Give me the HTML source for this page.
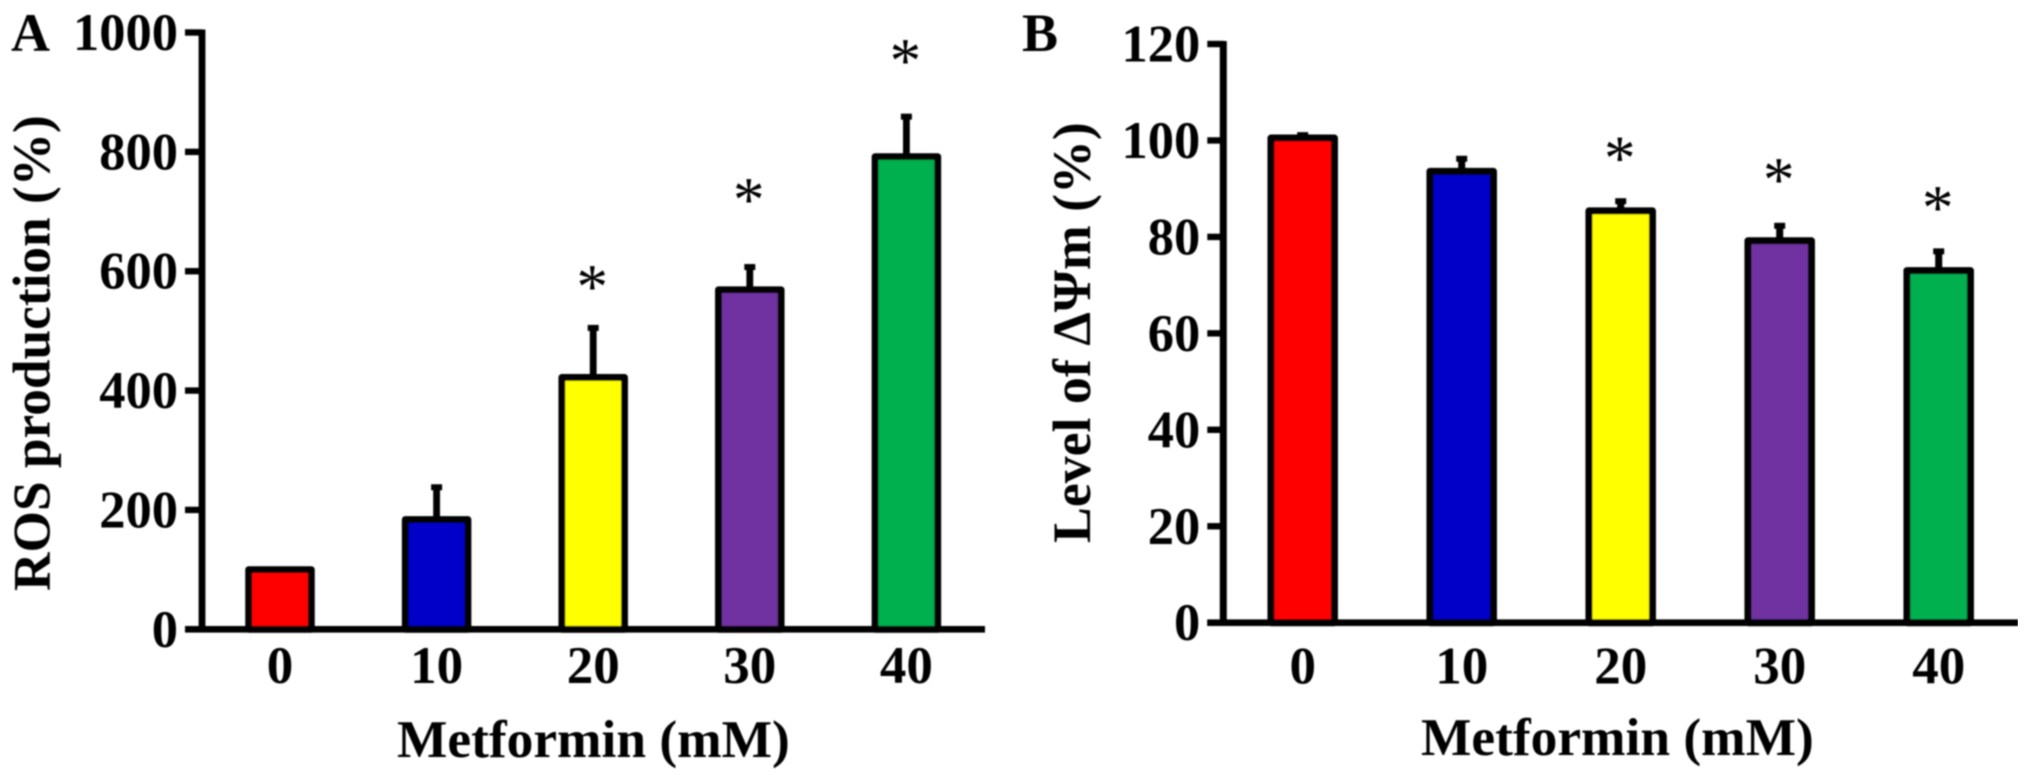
<!DOCTYPE html>
<html lang="en">
<head>
<meta charset="utf-8">
<title>Metformin ROS production and mitochondrial membrane potential</title>
<style>
  html, body { margin: 0; padding: 0; background: #fff; width: 2031px; height: 782px; overflow: hidden; }
  svg { display: block; }
  text { font-family: "Liberation Serif", "Times New Roman", serif; font-weight: bold; fill: #000; }
  .star { font-weight: normal; }
</style>
</head>
<body>
<svg id="figure" xmlns="http://www.w3.org/2000/svg" width="2031" height="782" viewBox="0 0 2031 782">
  <defs>
    <filter id="soft" x="0" y="0" width="100%" height="100%"><feGaussianBlur stdDeviation="0.75"/></filter>
  </defs>
  <rect x="0" y="0" width="2031" height="782" fill="#ffffff"/>
  <g id="art" filter="url(#soft)">
    <text x="11" y="51" font-size="54">A</text>
    <text x="1022" y="51" font-size="54">B</text>
    <text transform="translate(49.5 591) rotate(-90)" font-size="53.3">ROS production (%)</text>
    <text transform="translate(1090 543) rotate(-90)" font-size="53.8">Level of ΔΨm (%)</text>
    <text x="397" y="757" font-size="53.4">Metformin (mM)</text>
    <text x="1421" y="755" font-size="53.4">Metformin (mM)</text>
  </g>
</svg>
<script>
const categories = ["0", "10", "20", "30", "40"];
const barColors = ["#ff0000", "#0000c8", "#ffff00", "#7030a0", "#00b050"];

const rosTicks = [0, 200, 400, 600, 800, 1000];
const rosValues = [100, 184, 422, 569, 792];
const rosErrors = [0, 54, 83, 38, 67];
const rosStars = [null, null, 588, 734, 967];

const potentialTicks = [0, 20, 40, 60, 80, 100, 120];
const potentialValues = [100.5, 93.6, 85.4, 79.2, 73];
const potentialErrors = [0.6, 2.6, 2, 3.1, 4];
const potentialStars = [null, null, 98, 93.6, 87.8];

const SVG_NS = "http://www.w3.org/2000/svg";
const art = document.getElementById("art");

function make(tag, attrs) {
  const el = document.createElementNS(SVG_NS, tag);
  for (const k in attrs) el.setAttribute(k, attrs[k]);
  art.appendChild(el);
  return el;
}

function drawPanel(p) {
  const maxTick = p.ticks[p.ticks.length - 1];
  const y = v => p.y0 - (v / maxTick) * (p.y0 - p.yTop);
  const x = i => p.x0 + i * p.step;
  const innerW = p.barW - p.sw;

  p.values.forEach((v, i) => {
    const cx = x(i);
    const capY = y(v + p.errors[i]);

    const stem = make("rect", { x: cx - p.sw / 2, y: capY, width: p.sw, height: Math.max(0, y(v) - capY), fill: "#000" });
    
    

    const cap = make("rect", { x: cx - 5.5, y: capY - 3, width: 11, height: 6, fill: "#000" });
    
    

    const bar = make("rect", {
      x: cx - innerW / 2, y: y(v), width: innerW, height: p.y0 - y(v),
      fill: barColors[i], stroke: "#000", "stroke-width": p.sw, "stroke-linejoin": "round"
    });
    
    

    const label = make("text", { x: cx, y: p.catBase, "font-size": 53, "text-anchor": "middle" });
    label.textContent = categories[i];
    
    

    if (p.stars[i] !== null) {
      const star = make("text", { x: cx - 1, y: y(p.stars[i]) + 0.47 * 63, "font-size": 63, "text-anchor": "middle", "class": "star" });
      star.textContent = "*";
      
      
    }
  });

  const yAxis = make("rect", { x: p.axisX - p.sw / 2, y: p.yTop - 3, width: p.sw, height: p.y0 - p.yTop + 6, fill: "#000" });
  
  

  const xAxis = make("rect", { x: p.tickStart, y: p.y0 - 3.3, width: p.xEnd - p.tickStart, height: 6.6, fill: "#000" });
  
  

  p.ticks.forEach(t => {
    const tick = make("rect", { x: p.tickStart, y: y(t) - 3.2, width: p.axisX - p.tickStart, height: 6.4, fill: "#000" });
    
    

    const label = make("text", { x: p.tickStart - 7, y: y(t) + 17.5, "font-size": 52.5, "text-anchor": "end" });
    label.textContent = String(t);
    
    
  });
}

drawPanel({
  ticks: rosTicks, values: rosValues, errors: rosErrors, stars: rosStars,
  y0: 629.3, yTop: 32.5, x0: 280, step: 156.6, barW: 69.5, sw: 6.8,
  axisX: 202, tickStart: 185, xEnd: 985, catBase: 683
});

drawPanel({
  ticks: potentialTicks, values: potentialValues, errors: potentialErrors, stars: potentialStars,
  y0: 622.7, yTop: 44, x0: 1302.7, step: 159, barW: 70.5, sw: 7,
  axisX: 1223.3, tickStart: 1207.3, xEnd: 2018, catBase: 683.5
});
</script>
</body>
</html>
